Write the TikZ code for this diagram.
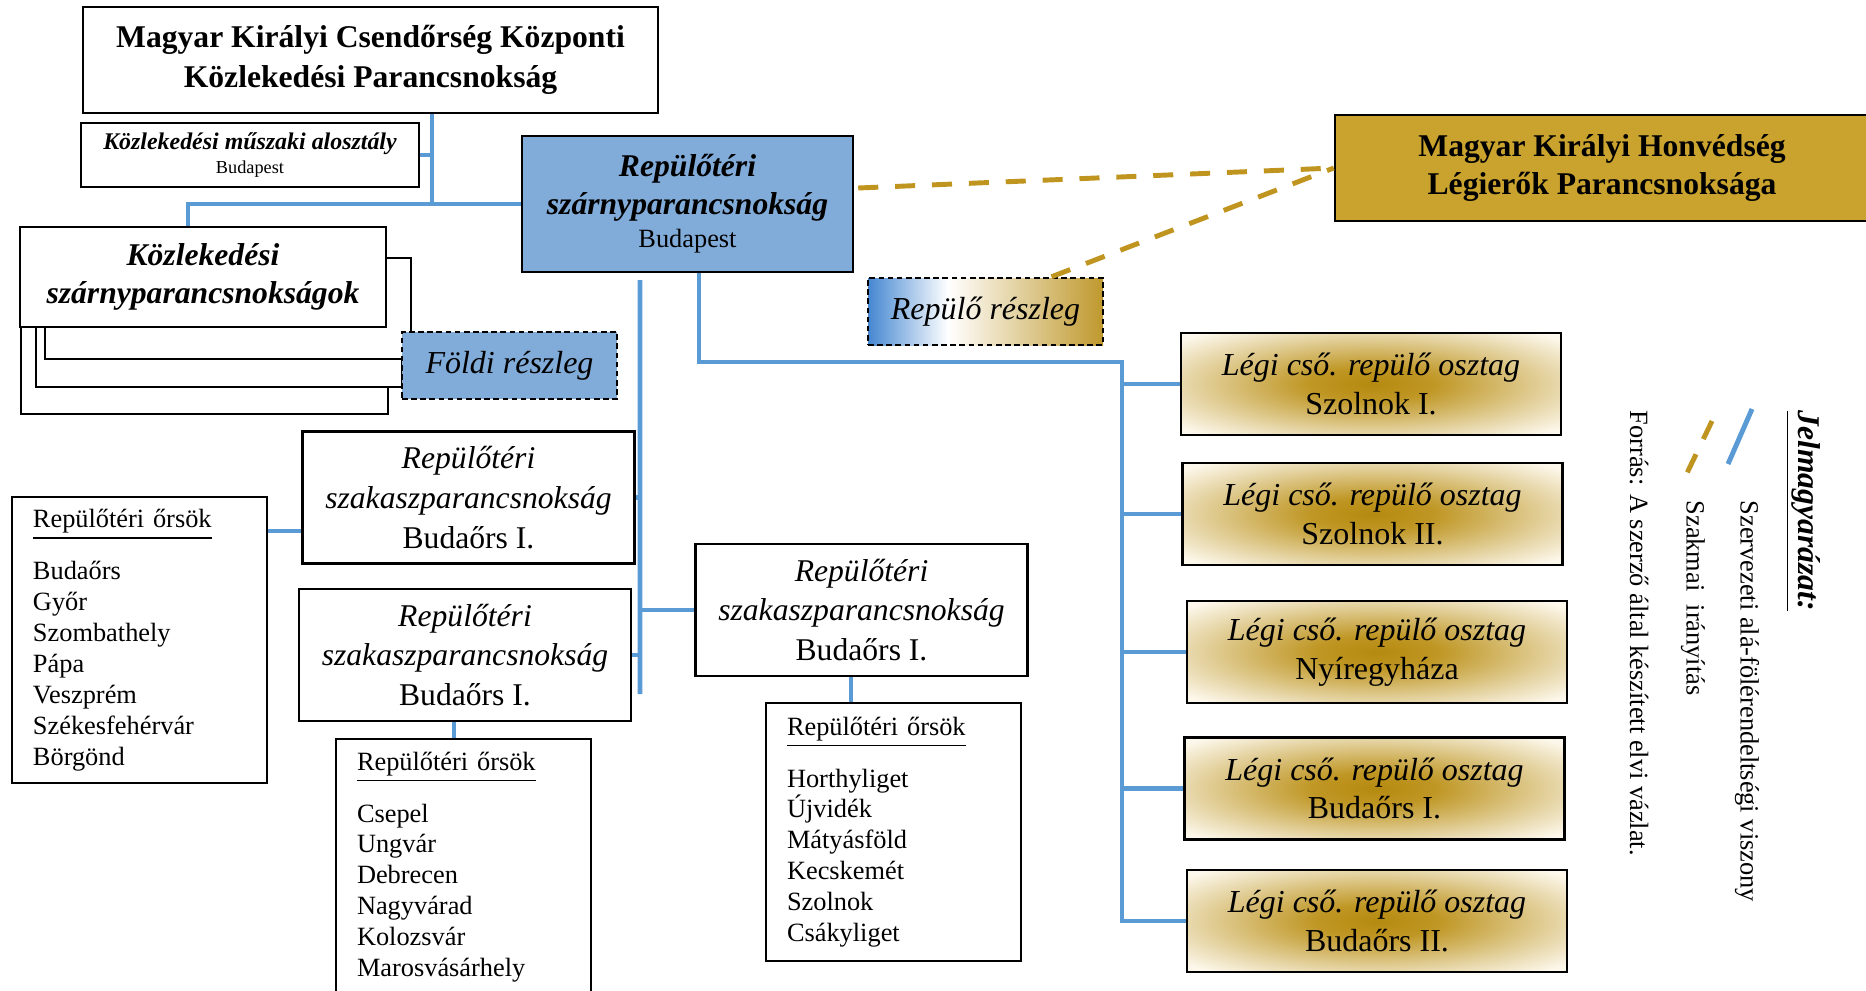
\documentclass[tikz,border=0pt]{standalone}
\usepackage{fontspec}
\setmainfont{Liberation Serif}
\usepackage{tikz}
\usetikzlibrary{calc}
\definecolor{orgblue}{RGB}{91,155,213}
\definecolor{boxblue}{RGB}{129,171,216}
\definecolor{honvgold}{RGB}{201,163,46}
\definecolor{dashgold}{RGB}{191,149,32}
\newcommand{\setfs}[2]{\fontsize{#1}{#2}\selectfont}
\pgfdeclareradialshading{osztagglow}{\pgfpoint{0bp}{0bp}}{rgb(0bp)=(0.71,0.54,0.06); rgb(8bp)=(0.75,0.59,0.14); rgb(25bp)=(0.91,0.85,0.68); rgb(33bp)=(0.99,0.97,0.92); rgb(50bp)=(1,1,1)}
\pgfdeclarehorizontalshading{kekarany}{100bp}{rgb(0bp)=(0.27,0.53,0.82); rgb(25bp)=(0.27,0.53,0.82); rgb(42bp)=(1,1,1); rgb(75bp)=(0.75,0.60,0.18); rgb(100bp)=(0.75,0.60,0.18)}

\begin{document}
\begin{tikzpicture}[font=\setfs{9}{11.3}]
  \tikzset{unit/.style={draw, line width=0.7pt, fill=white, align=center, inner sep=0pt},
    org/.style={draw=orgblue, line width=1.4pt},
    szak/.style={draw=dashgold, line width=1.4pt, dash pattern=on 5.7pt off 4.8pt},
    reszleg/.style={unit, dash pattern=on 1.6pt off 1pt, minimum height=0.67cm, font=\setfs{9.1}{11}\itshape},
    szakasz/.style={unit, minimum width=3.32cm, minimum height=1.32cm, font=\setfs{9}{11.3}},
    orsok/.style={unit, align=left, text width=2.13cm, inner xsep=0.21cm, font=\setfs{7.5}{8.8}},
    osztag/.style={unit, shade, shading=osztagglow, minimum width=3.80cm, minimum height=1.02cm, font=\setfs{9.1}{11}},
    legend/.style={rotate=-90, anchor=west, inner sep=0pt, font=\setfs{7.5}{9}}}
  \useasboundingbox (0,0) rectangle (18.66,-9.90);
  \clip (0,0) rectangle (18.66,-9.90);

  \node[unit, minimum width=5.75cm, minimum height=1.06cm, font=\setfs{9}{11.3}\bfseries] (kcp) at (3.705,-0.60) {Magyar Királyi Csendőrség Központi\\ Közlekedési Parancsnokság};
  \node[unit, minimum width=3.38cm, minimum height=0.64cm, font=\setfs{6.8}{7.1}\bfseries\itshape] (alo) at (2.50,-1.55) {Közlekedési műszaki alosztály\\ {\setfs{5.2}{6}\mdseries\upshape Budapest}};
  \node[unit, fill=boxblue, minimum width=3.31cm, minimum height=1.36cm, font=\setfs{9}{10.8}] (rszp) at (6.875,-2.04) {\textbf{\textit{Repülőtéri}}\\ \textbf{\textit{szárnyparancsnokság}}\\[-1.4pt] {\setfs{7.5}{9}Budapest}};

  \node[unit, minimum width=3.67cm, minimum height=1.0cm] (kszp4) at (2.045,-3.64) {};
  \node[unit, minimum width=3.66cm, minimum height=1.0cm] (kszp3) at (2.19,-3.37) {};
  \node[unit, minimum width=3.66cm, minimum height=1.01cm] (kszp2) at (2.28,-3.085) {};
  \node[unit, minimum width=3.66cm, minimum height=1.0cm, font=\setfs{9}{10.8}\bfseries\itshape] (kszp) at (2.03,-2.77) {Közlekedési\\ szárnyparancsnokságok};
  \node[reszleg, fill=boxblue, minimum width=2.15cm] (foldi) at (5.095,-3.655) {Földi részleg};

  \node[unit, fill=honvgold, minimum width=5.34cm, minimum height=1.06cm, font=\setfs{9}{10.8}\bfseries] (honv) at (16.02,-1.68) {Magyar Királyi Honvédség\\ Légierők Parancsnoksága};
  \node[reszleg, shade, shading=kekarany, minimum width=2.35cm] (repr) at (9.855,-3.115) {Repülő részleg};

  \node[szakasz] (szak1) at (4.685,-4.975) {\textit{Repülőtéri}\\ \textit{szakaszparancsnokság}\\ Budaőrs I.};
  \node[szakasz] (szak2) at (4.65,-6.55) {\textit{Repülőtéri}\\ \textit{szakaszparancsnokság}\\ Budaőrs I.};
  \node[szakasz] (szak3) at (8.615,-6.10) {\textit{Repülőtéri}\\ \textit{szakaszparancsnokság}\\ Budaőrs I.};

  \node[orsok, minimum height=2.86cm] (ors1) at (1.395,-6.40) {\underline{Repülőtéri őrsök}\\[5pt] Budaőrs\\ Győr\\ Szombathely\\ Pápa\\ Veszprém\\ Székesfehérvár\\ Börgönd};
  \node[orsok, minimum height=2.56cm] (ors2) at (4.635,-8.67) {\underline{Repülőtéri őrsök}\\[5pt] Csepel\\ Ungvár\\ Debrecen\\ Nagyvárad\\ Kolozsvár\\ Marosvásárhely};
  \node[orsok, minimum height=2.58cm] (ors3) at (8.935,-8.32) {\underline{Repülőtéri őrsök}\\[5pt] Horthyliget\\ Újvidék\\ Mátyásföld\\ Kecskemét\\ Szolnok\\ Csákyliget};

  \node[osztag] (osz1) at (13.71,-3.84) {\textit{Légi cső. repülő osztag}\\ Szolnok I.};
  \node[osztag] (osz2) at (13.725,-5.14) {\textit{Légi cső. repülő osztag}\\ Szolnok II.};
  \node[osztag] (osz3) at (13.77,-6.52) {\textit{Légi cső. repülő osztag}\\ Nyíregyháza};
  \node[osztag] (osz4) at (13.745,-7.885) {\textit{Légi cső. repülő osztag}\\ Budaőrs I.};
  \node[osztag] (osz5) at (13.77,-9.21) {\textit{Légi cső. repülő osztag}\\ Budaőrs II.};

  \coordinate (csp) at ([xshift=0.615cm]kcp.south);
  \draw[org] (csp) -- (csp |- rszp.west) -- (rszp.west);
  \draw[org] (csp |- rszp.west) -| ([xshift=-0.15cm]kszp.north);
  \draw[org] (alo.east) -- (alo.east -| csp);

  \coordinate (bal) at ([shift={(-0.475,-0.07)}]rszp.south);
  \coordinate (balv) at (6.40,-6.94);
  \draw[org] (bal) -- (balv);
  \draw[org] (bal |- szak1.east) -- (szak1.east);
  \draw[org] (bal |- szak2.east) -- (szak2.east);
  \draw[org] (bal |- szak3.west) -- (szak3.west);
  \draw[org] ([yshift=-0.335cm]szak1.west) -- ([yshift=-0.335cm]szak1.west -| ors1.east);
  \draw[org] ([xshift=-0.11cm]szak2.south) -- ([xshift=-0.11cm]szak2.south |- ors2.north);
  \draw[org] ([xshift=-0.105cm]szak3.south) -- ([xshift=-0.105cm]szak3.south |- ors3.north);

  \coordinate (jobb) at (11.22,-3.62);
  \draw[org] ([xshift=0.115cm]rszp.south) |- (jobb) -- (jobb |- osz5.west) -- (osz5.west);
  \foreach \o in {1,...,4}
    \draw[org] (jobb |- osz\o.west) -- (osz\o.west);

  \draw[szak] ($(rszp.east)+(0.04,0.16)$) -- (honv.west);
  \draw[szak] ($(repr.north)+(0.66,0)$) -- (honv.west);

  \node[legend, font=\setfs{9}{10}\bfseries\itshape] (jelm) at (18.03,-4.10) {\underline{Jelmagyarázat:}};
  \node[legend] (szerv) at (17.47,-5.00) {Szervezeti alá-fölérendeltségi viszony};
  \node[legend] (szakm) at (16.93,-5.00) {Szakmai\ \ irányítás};
  \node[legend] (forras) at (16.39,-4.10) {Forrás: A szerző által készített elvi vázlat.};
  \coordinate (lk1) at (17.52,-4.09);
  \coordinate (lk2) at (17.28,-4.64);
  \coordinate (la1) at (17.12,-4.21);
  \coordinate (la2) at (16.87,-4.73);
  \draw[org] (lk1) -- (lk2);
  \draw[szak] (la1) -- (la2);
\end{tikzpicture}
\end{document}
